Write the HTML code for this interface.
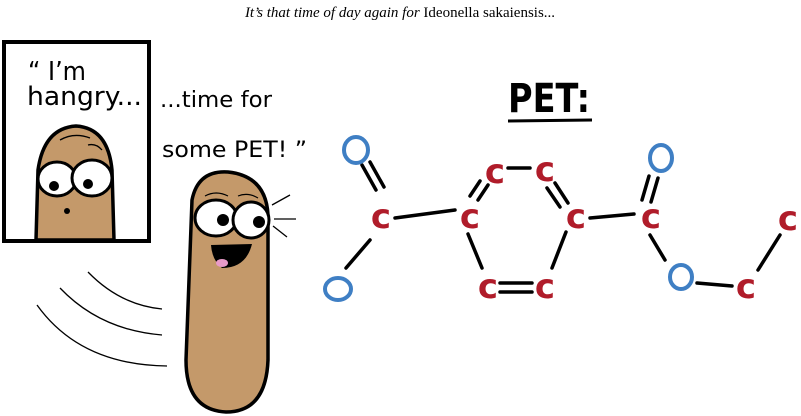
<!DOCTYPE html>
<html><head><meta charset="utf-8"><style>
body{margin:0;background:#fff;width:801px;height:416px;overflow:hidden}
svg{display:block}
.hand{font-family:"DejaVu Sans",sans-serif}
</style></head><body>
<svg width="801" height="416" viewBox="0 0 801 416">
<text x="400" y="17" text-anchor="middle" font-family="Liberation Serif,serif" font-size="15"><tspan font-style="italic">It’s that time of  day again for </tspan>Ideonella sakaiensis...</text>
<g>
<rect x="4" y="42" width="145" height="199" fill="#fff" stroke="#000" stroke-width="4"/>
<path d="M36 240 L38 170 Q44 128 76 126 Q108 128 112 170 L114 240 Z" fill="#c4996a" stroke="#000" stroke-width="3.5"/>
<ellipse cx="57" cy="179" rx="19" ry="17" fill="#fff" stroke="#000" stroke-width="3"/>
<ellipse cx="92" cy="178" rx="20" ry="18" fill="#fff" stroke="#000" stroke-width="3"/>
<circle cx="54" cy="186" r="5" fill="#000"/><circle cx="88" cy="184" r="5" fill="#000"/>
<circle cx="67" cy="211" r="3" fill="#000"/>
<path d="M60 140 Q74 132 90 138 M88 145 Q96 143 102 150" stroke="#000" fill="none" stroke-width="1.3"/>
</g>
<g class="hand" fill="#000">
<text x="28" y="80" font-size="26" textLength="58" lengthAdjust="spacingAndGlyphs">“ I’m</text>
<text x="27" y="105" font-size="26" textLength="115" lengthAdjust="spacingAndGlyphs">hangry...</text>
<text x="160" y="107" font-size="22" textLength="112" lengthAdjust="spacingAndGlyphs">...time for</text>
<text x="162" y="157" font-size="22" textLength="145" lengthAdjust="spacingAndGlyphs">some PET! ”</text>
</g>
<g stroke="#000" stroke-width="1.3" fill="none">
<path d="M88 272 Q120 305 162 309"/><path d="M60 288 Q100 330 162 335"/><path d="M37 305 Q80 365 167 366"/>
<path d="M272 205 L290 195 M274 219 L296 219 M273 226 L287 237"/>
</g>
<g>
<path d="M186 360 L192 200 Q198 170 228 172 Q266 176 268 215 L268 360 Q266 412 226 412 Q186 410 186 360 Z" fill="#c4996a" stroke="#000" stroke-width="3.5"/>
<ellipse cx="216" cy="218" rx="21" ry="18" fill="#fff" stroke="#000" stroke-width="3"/>
<ellipse cx="251" cy="220" rx="18" ry="18" fill="#fff" stroke="#000" stroke-width="3"/>
<circle cx="223" cy="220" r="6" fill="#000"/><circle cx="259" cy="222" r="6" fill="#000"/>
<path d="M211 245 L252 244 Q246 268 222 268 Q212 260 211 245 Z" fill="#000"/>
<ellipse cx="222" cy="263" rx="6" ry="4" fill="#e89ac8"/>
<path d="M205 196 Q216 190 228 196 M238 196 Q248 192 258 198" stroke="#000" fill="none" stroke-width="1.2"/>
</g>
<g>
<text x="508" y="112" font-family="DejaVu Sans,sans-serif" font-size="40" font-weight="bold" textLength="82" lengthAdjust="spacingAndGlyphs">PET:</text>
<path d="M508 121 L592 120" stroke="#000" stroke-width="3"/>
</g>
<g stroke="#000" stroke-width="3.5" fill="none" stroke-linecap="round">
<path d="M362 165 L376 190 M370 162 L384 187"/>
<path d="M370 240 L346 268"/>
<path d="M395 218 L455 210"/>
<path d="M478 200 L488 185 M470 196 L480 181"/>
<path d="M508 168 L530 168"/>
<path d="M555 183 L568 203 M547 188 L560 207"/>
<path d="M590 218 L634 214"/>
<path d="M649 176 L642 200 M658 178 L651 202"/>
<path d="M650 235 L665 260"/>
<path d="M697 283 L732 286"/>
<path d="M758 270 L780 235"/>
<path d="M566 232 L552 268"/>
<path d="M500 283 L532 283 M500 292 L532 292"/>
<path d="M468 234 L482 268"/>
</g>
<g font-family="DejaVu Sans,sans-serif" font-size="34" font-weight="bold" text-anchor="middle" fill="#b01c2a">
<text x="381" y="228">c</text><text x="470" y="228">c</text>
<text x="495" y="183">c</text><text x="545" y="181">c</text>
<text x="576" y="228">c</text><text x="545" y="298">c</text>
<text x="488" y="298">c</text><text x="651" y="228">c</text>
<text x="746" y="298">c</text><text x="788" y="230">c</text>
</g>
<g fill="none" stroke="#3f7fc4" stroke-width="4">
<ellipse cx="356" cy="150" rx="12" ry="13"/><ellipse cx="338" cy="289" rx="13" ry="11"/>
<ellipse cx="661" cy="158" rx="11" ry="13"/><ellipse cx="681" cy="277" rx="11" ry="12"/>
</g>
</svg>
</body></html>
